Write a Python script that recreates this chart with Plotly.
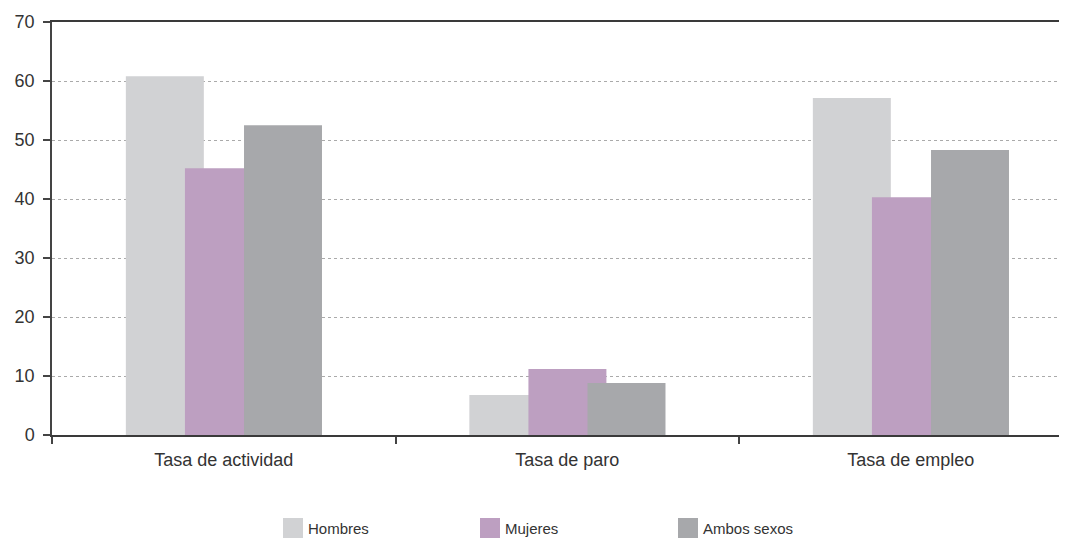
import plotly.graph_objects as go

categories = ["Tasa de actividad", "Tasa de paro", "Tasa de empleo"]
series_names = ["Hombres", "Mujeres", "Ambos sexos"]
hombres = [60.8, 6.8, 57.1]
mujeres = [45.2, 11.2, 40.3]
ambos = [52.5, 8.8, 48.3]
y_ticks = [0, 10, 20, 30, 40, 50, 60, 70]

colors = ["#d1d2d4", "#bd9fc1", "#a7a8ab"]
offsets = [-0.285, -0.113, 0.059]
bar_w = 0.227

PAGE_OFF = 8  # browser body margin
W, H = 1067, 539 - PAGE_OFF
# target page-pixel positions of plot area
PL, PT, PB = 52, 22, 435
ML = PL - PAGE_OFF
MT = PT - PAGE_OFF
MR = 0
PW = W - ML - MR
PH = PB - PT
MB = H - MT - PH

def px2x(px):
    return (px - PL) / PW
def py2y(py):
    return (PB - py) / PH

fig = go.Figure()
for name, vals, col, off in zip(series_names, [hombres, mujeres, ambos], colors, offsets):
    fig.add_trace(go.Bar(
        x=categories, y=vals, name=name,
        marker=dict(color=col, line=dict(width=0)),
        width=bar_w, offset=off, showlegend=False,
    ))

# manual legend
legend_px = [283, 480, 678]
for name, col, lx in zip(series_names, colors, legend_px):
    fig.add_shape(type="rect", xref="paper", yref="paper",
                  x0=px2x(lx), x1=px2x(lx + 20), y0=py2y(538), y1=py2y(518),
                  fillcolor=col, line=dict(width=0))
    fig.add_annotation(xref="paper", yref="paper", x=px2x(lx + 23), y=py2y(528),
                       text=name, showarrow=False, xanchor="left", yanchor="middle",
                       font=dict(size=15, color="#333333", family="Liberation Sans, Arial"))

fig.update_layout(
    width=W, height=H,
    margin=dict(l=ML, r=MR, t=MT, b=MB),
    barmode="overlay",
    plot_bgcolor="white", paper_bgcolor="white",
    font=dict(family="Liberation Sans, Arial", color="#333333"),
    xaxis=dict(
        type="category",
        range=[-0.5, -0.5 + PW / 343.5],
        showline=True, linecolor="#3a3a3a", linewidth=2,
        mirror=True,
        ticks="outside", tickson="boundaries", ticklen=7, tickwidth=1.5, tickcolor="#444444",
        ticklabelstandoff=7,
        tickfont=dict(size=18, color="#333333"),
        showgrid=False, zeroline=False,
    ),
    yaxis=dict(
        range=[0, 70],
        tickvals=y_ticks,
        showline=True, linecolor="#444444", linewidth=1.5,
        ticks="outside", ticklen=7, tickwidth=1.5, tickcolor="#444444",
        ticklabelstandoff=5,
        tickfont=dict(size=18, color="#333333"),
        showgrid=True, gridcolor="#aaaaaa", gridwidth=1, griddash="3px,3px",
        zeroline=False,
    ),
)

fig.write_html("out.html")
